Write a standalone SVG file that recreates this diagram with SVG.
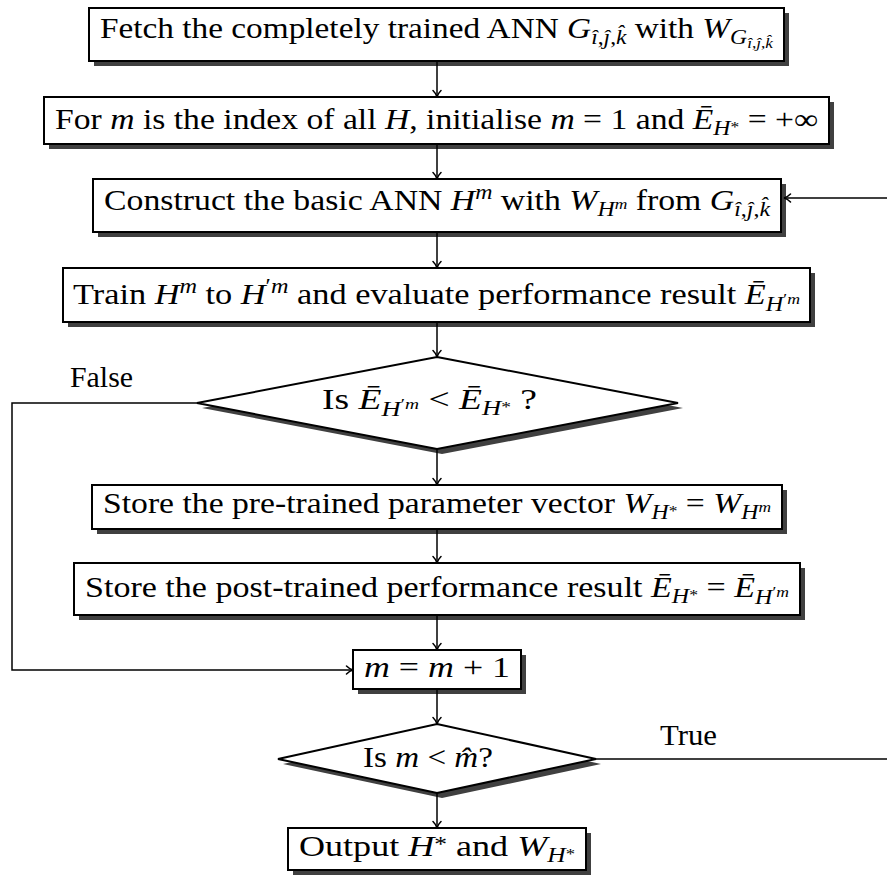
<svg xmlns="http://www.w3.org/2000/svg" width="887" height="877" viewBox="0 0 887 877">
  <defs>
    <style>
      .t{font-family:"Liberation Serif","Times New Roman",serif;font-size:29px;fill:#000}
      .i{font-style:italic}
      .s{font-size:20.5px}
      .ss{font-size:15px}
      .box{fill:#fff;stroke:#000;stroke-width:2}
      .sh{fill:#404040}
      .ln{fill:none;stroke:#000;stroke-width:1.5}
    </style>
    <marker id="arr" viewBox="-8 -5 10 10" refX="0" refY="0" markerWidth="10" markerHeight="10" orient="auto" markerUnits="userSpaceOnUse">
      <path d="M-6.5,-4 C-4,-1.5 -1.2,-0.3 0,0 C-1.2,0.3 -4,1.5 -6.5,4" fill="none" stroke="#000" stroke-width="1.5" stroke-linecap="round"/>
    </marker>
  </defs>

  <rect width="887" height="877" fill="#fff"/>

  <!-- fetch trained network -->
  <g id="fetch">
    <rect class="sh" x="94" y="13" width="695" height="53"/>
    <rect class="box" x="89" y="8" width="695" height="53"/>
    <text class="t" x="100" y="38" textLength="673" lengthAdjust="spacingAndGlyphs">Fetch the completely trained ANN <tspan class="i">G</tspan><tspan class="s" dy="6"><tspan class="i">î</tspan>,<tspan class="i">ĵ</tspan>,<tspan class="i">k̂</tspan></tspan><tspan dy="-6"> with </tspan><tspan class="i">W</tspan><tspan class="s i" dy="6">G</tspan><tspan class="ss" dy="4"><tspan class="i">î</tspan>,<tspan class="i">ĵ</tspan>,<tspan class="i">k̂</tspan></tspan></text>
  </g>

  <!-- initialisation -->
  <g id="init">
    <rect class="sh" x="49" y="102" width="785" height="47"/>
    <rect class="box" x="44" y="97" width="785" height="47"/>
    <text class="t" x="55" y="129" textLength="763" lengthAdjust="spacingAndGlyphs">For <tspan class="i">m</tspan> is the index of all <tspan class="i">H</tspan>, initialise <tspan class="i">m</tspan> = 1 and <tspan class="i">Ē</tspan><tspan class="s i" dy="6">H</tspan><tspan class="ss" dy="-3">*</tspan><tspan dy="-3"> = +∞</tspan></text>
  </g>

  <!-- construct basic network -->
  <g id="construct">
    <rect class="sh" x="98" y="184" width="688" height="53"/>
    <rect class="box" x="93" y="179" width="688" height="53"/>
    <text class="t" x="104" y="210" textLength="666" lengthAdjust="spacingAndGlyphs">Construct the basic ANN <tspan class="i">H</tspan><tspan class="s i" dy="-11">m</tspan><tspan dy="11"> with </tspan><tspan class="i">W</tspan><tspan class="s i" dy="6">H</tspan><tspan class="ss i" dy="-7">m</tspan><tspan dy="1"> from </tspan><tspan class="i">G</tspan><tspan class="s" dy="6"><tspan class="i">î</tspan>,<tspan class="i">ĵ</tspan>,<tspan class="i">k̂</tspan></tspan></text>
  </g>

  <!-- train and evaluate -->
  <g id="train">
    <rect class="sh" x="68" y="273" width="747" height="54"/>
    <rect class="box" x="63" y="268" width="747" height="54"/>
    <text class="t" x="73" y="304" textLength="727" lengthAdjust="spacingAndGlyphs">Train <tspan class="i">H</tspan><tspan class="s i" dy="-11">m</tspan><tspan dy="11"> to </tspan><tspan class="i">H</tspan><tspan class="s" dy="-11">′<tspan class="i">m</tspan></tspan><tspan dy="11"> and evaluate performance result </tspan><tspan class="i">Ē</tspan><tspan class="s i" dy="7">H</tspan><tspan class="ss" dy="-7">′<tspan class="i">m</tspan></tspan></text>
  </g>

  <!-- comparison decision -->
  <g id="compare">
    <polygon class="sh" points="442,362 683,408 442,454 202,408"/>
    <polygon class="box" points="437,357 678,403 437,449 197,403"/>
    <text class="t" x="322" y="409" textLength="215" lengthAdjust="spacingAndGlyphs">Is <tspan class="i">Ē</tspan><tspan class="s i" dy="7">H</tspan><tspan class="ss" dy="-7">′<tspan class="i">m</tspan></tspan> &lt; <tspan class="i">Ē</tspan><tspan class="s i" dy="6">H</tspan><tspan class="ss" dy="-3">*</tspan><tspan dy="-3"> ?</tspan></text>
  </g>

  <!-- store parameters -->
  <g id="store-params">
    <rect class="sh" x="97" y="490" width="690" height="44"/>
    <rect class="box" x="92" y="485" width="690" height="44"/>
    <text class="t" x="103" y="513" textLength="668" lengthAdjust="spacingAndGlyphs">Store the pre-trained parameter vector <tspan class="i">W</tspan><tspan class="s i" dy="6">H</tspan><tspan class="ss" dy="-3">*</tspan><tspan dy="-3"> = </tspan><tspan class="i">W</tspan><tspan class="s i" dy="6">H</tspan><tspan class="ss i" dy="-7">m</tspan></text>
  </g>

  <!-- store result -->
  <g id="store-result">
    <rect class="sh" x="79" y="568" width="726" height="52"/>
    <rect class="box" x="74" y="563" width="726" height="52"/>
    <text class="t" x="85" y="597" textLength="704" lengthAdjust="spacingAndGlyphs">Store the post-trained performance result <tspan class="i">Ē</tspan><tspan class="s i" dy="6">H</tspan><tspan class="ss" dy="-3">*</tspan><tspan dy="-3"> = </tspan><tspan class="i">Ē</tspan><tspan class="s i" dy="7">H</tspan><tspan class="ss" dy="-7">′<tspan class="i">m</tspan></tspan></text>
  </g>

  <!-- increment -->
  <g id="increment">
    <rect class="sh" x="358" y="655" width="168" height="39"/>
    <rect class="box" x="353" y="650" width="168" height="39"/>
    <text class="t" x="364" y="677" textLength="146" lengthAdjust="spacingAndGlyphs"><tspan class="i">m</tspan> = <tspan class="i">m</tspan> + 1</text>
  </g>

  <!-- loop decision -->
  <g id="loop">
    <polygon class="sh" points="442,729 601,764 442,798 283,764"/>
    <polygon class="box" points="437,724 596,759 437,793 278,759"/>
    <text class="t" x="363" y="767" textLength="130" lengthAdjust="spacingAndGlyphs">Is <tspan class="i">m</tspan> &lt; <tspan class="i">m̂</tspan>?</text>
  </g>

  <!-- output -->
  <g id="output">
    <rect class="sh" x="293" y="833" width="298" height="42"/>
    <rect class="box" x="288" y="828" width="298" height="42"/>
    <text class="t" x="299" y="856" textLength="276" lengthAdjust="spacingAndGlyphs">Output <tspan class="i">H</tspan><tspan class="s" dy="-5">*</tspan><tspan dy="5"> and </tspan><tspan class="i">W</tspan><tspan class="s i" dy="6">H</tspan><tspan class="ss" dy="-3">*</tspan></text>
  </g>

  <!-- branch labels -->
  <g id="labels">
    <text class="t" x="70" y="387" textLength="63" lengthAdjust="spacingAndGlyphs">False</text>
    <text class="t" x="660" y="745" textLength="57" lengthAdjust="spacingAndGlyphs">True</text>
  </g>

  <!-- connectors -->
  <g id="connectors" class="ln">
    <path d="M437,61 V97" marker-end="url(#arr)"/>
    <path d="M437,144 V179" marker-end="url(#arr)"/>
    <path d="M437,232 V268" marker-end="url(#arr)"/>
    <path d="M437,322 V357" marker-end="url(#arr)"/>
    <path d="M437,449 V485" marker-end="url(#arr)"/>
    <path d="M437,529 V563" marker-end="url(#arr)"/>
    <path d="M437,615 V650" marker-end="url(#arr)"/>
    <path d="M437,689 V724" marker-end="url(#arr)"/>
    <path d="M437,793 V828" marker-end="url(#arr)"/>
    <path d="M197,403 H12 V670 H353" marker-end="url(#arr)"/>
    <path d="M596,759 H887"/>
    <path d="M887,198 H784" marker-end="url(#arr)"/>
  </g>
</svg>
